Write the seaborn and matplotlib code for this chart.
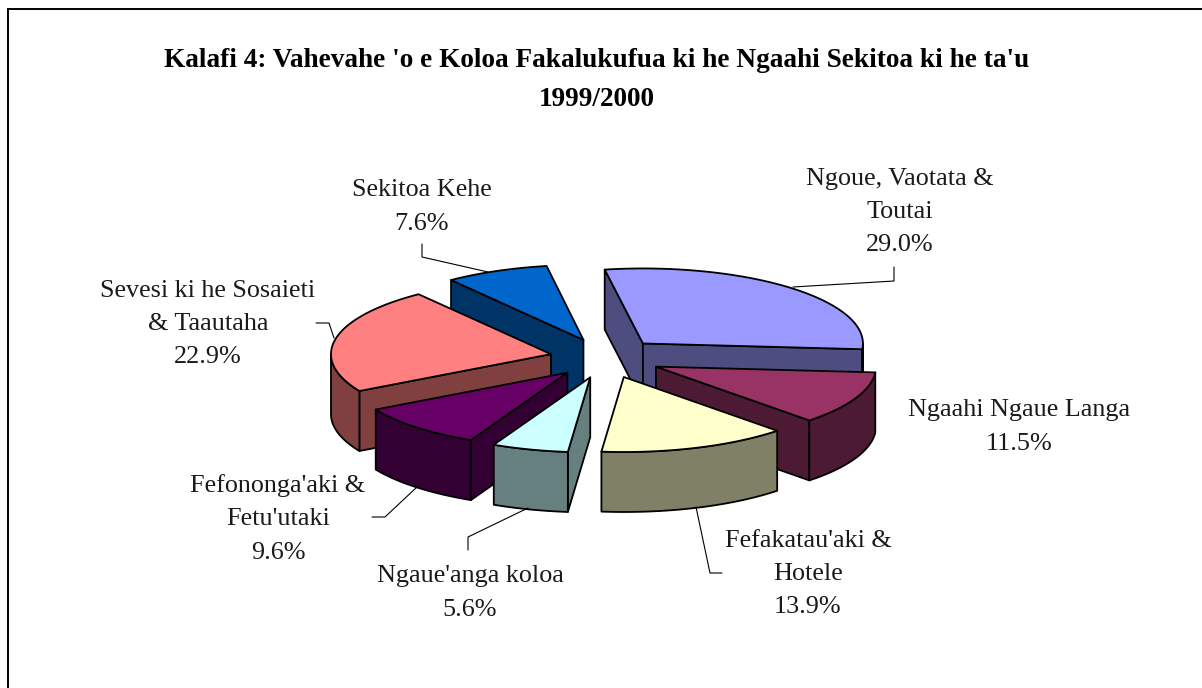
import numpy as np
import matplotlib
matplotlib.use("Agg")
import matplotlib.pyplot as plt
import seaborn as sns

# Data
sectors = ["Ngoue, Vaotata &\nToutai", "Ngaahi Ngaue Langa", "Fefakatau'aki &\nHotele",
           "Ngaue'anga koloa", "Fefononga'aki &\nFetu'utaki",
           "Sevesi ki he Sosaieti\n& Taautaha", "Sekitoa Kehe"]
shares = [29.0, 11.5, 13.9, 5.6, 9.6, 22.9, 7.6]
top_colors = ["#9999FF", "#993366", "#FFFFCC", "#CCFFFF", "#660066", "#FF8080", "#0066CC"]
title = "Kalafi 4: Vahevahe 'o e Koloa Fakalukufua ki he Ngaahi Sekitoa ki he ta'u\n1999/2000"

# Label placement and leader lines, in pixels
label_pos = [(900, 212), (1019, 427), (808, 574), (470, 593), (278, 519), (208, 324), (422, 207)]
leaders = [
    [(793, 287), (894, 281), (894, 267)],
    None,
    [(696, 507), (710, 573), (722, 573)],
    [(528, 508), (468, 537), (468, 550)],
    [(417, 487), (385, 517), (372, 517)],
    [(334, 338), (329, 323), (316, 323)],
    [(488, 272), (422, 257), (422, 244)],
]

# Pie geometry
cx, cy = 605.5, 358.2
rx, ry = 220, 75
explode_x, explode_y = 55.7, 19.9
depth = 60
start_angle = 350

sns.set_theme(style="white")
plt.rcParams['font.family'] = ['Liberation Serif', 'DejaVu Serif']

fig = plt.figure(figsize=(12.02, 6.88), dpi=100)
ax = fig.add_axes([0, 0, 1, 1])
ax.set_xlim(0, 1202)
ax.set_ylim(688, 0)
ax.axis("off")

palette = sns.color_palette(top_colors)
edges = start_angle + np.concatenate([[0], np.cumsum(shares)]) * 3.6


def rim(a0, a1, ox, oy, drop=0):
    t = np.radians(np.linspace(a0, a1, 80))
    return ox + rx * np.sin(t), oy - ry * np.cos(t) + drop


def quad(x0, y0, x1, y1, color):
    ax.fill([x0, x1, x1, x0], [y0, y1, y1 + depth, y0 + depth], facecolor=color,
            edgecolor="black", linewidth=1.3, joinstyle="round")


slices = []
for i in range(len(shares)):
    mid = np.radians((edges[i] + edges[i + 1]) / 2)
    slices.append((-np.cos(mid), i))

# back slices first so the front ones cover them
for _, i in sorted(slices):
    a0, a1 = edges[i], edges[i + 1]
    mid = np.radians((a0 + a1) / 2)
    ox = cx + explode_x * np.sin(mid)
    oy = cy - explode_y * np.cos(mid)
    top = palette[i]
    side = tuple(c * 0.5 for c in top)

    xs, ys = rim(a0, a1, ox, oy)
    if np.sin(np.radians(a0)) < 0:
        quad(ox, oy, xs[0], ys[0], side)
    if np.sin(np.radians(a1)) > 0:
        quad(ox, oy, xs[-1], ys[-1], side)

    # outer wall, only the part that faces the viewer
    for lo, hi in [(90, 270), (450, 630)]:
        v0, v1 = max(a0, lo), min(a1, hi)
        if v1 > v0:
            x1, y1 = rim(v0, v1, ox, oy)
            x2, y2 = rim(v1, v0, ox, oy, depth)
            ax.fill(np.r_[x1, x2], np.r_[y1, y2], facecolor=side, edgecolor="black",
                    linewidth=1.3, joinstyle="round")

    ax.fill(np.r_[ox, xs], np.r_[oy, ys], facecolor=top, edgecolor="black",
            linewidth=1.3, joinstyle="round")

for name, share, pos, line in zip(sectors, shares, label_pos, leaders):
    ax.text(pos[0], pos[1], f"{name}\n{share:.1f}%", ha="center", va="center", fontsize=18.8,
            color="#1a1a1a", linespacing=1.675, multialignment="center")
    if line:
        ax.plot(*zip(*line), color="black", linewidth=0.8, zorder=1)

ax.text(597, 80, title, ha="center", va="center", fontsize=19.6, fontweight="bold",
        color="black", linespacing=1.72, multialignment="center")

# chart frame, only the top and left sides are in the picture
ax.plot([7.5, 7.5, 1202], [688, 8.5, 8.5], color="black", linewidth=1.4, solid_joinstyle="miter")

plt.savefig("out.png", dpi=100)
plt.close()
